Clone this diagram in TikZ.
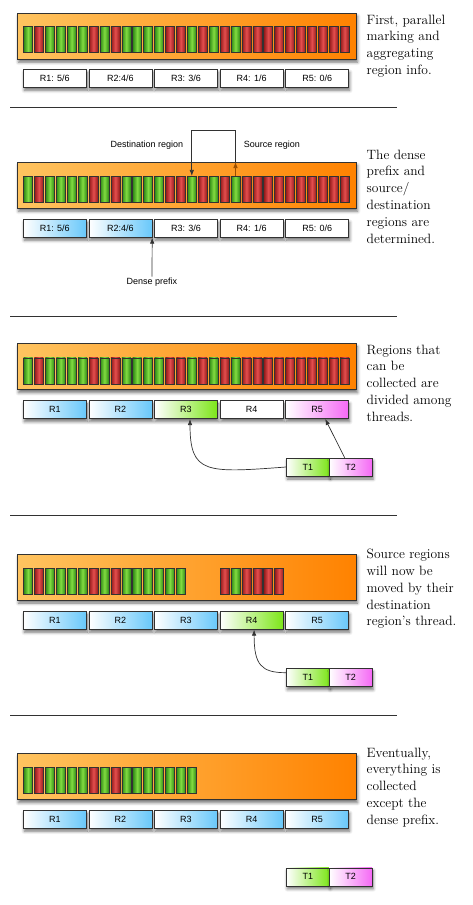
\documentclass[tikz,border=0pt]{standalone}
\usepackage{fontspec}
\setsansfont{Liberation Sans}
\usetikzlibrary{arrows.meta, shadows, shadows.blur}
\definecolor{barlight}{RGB}{255,196,96}
\definecolor{bardark}{RGB}{255,130,0}
\definecolor{livecolor}{RGB}{130,220,65}
\definecolor{livedark}{RGB}{45,135,20}
\definecolor{deadcolor}{RGB}{228,78,78}
\definecolor{deaddark}{RGB}{145,25,25}
\definecolor{prefixcolor}{RGB}{105,200,250}
\definecolor{t1color}{RGB}{125,230,25}
\definecolor{t2color}{RGB}{245,105,245}
\definecolor{linecolor}{RGB}{50,50,50}
\begin{document}
\begin{tikzpicture}[
    x=1pt, y=-1pt,
    heap/.style={draw=linecolor, line width=0.6pt, left color=barlight, right color=bardark, minimum width=339pt, minimum height=46pt, inner sep=0pt, blur shadow={shadow xshift=1pt, shadow yshift=-3pt, shadow opacity=55, shadow blur radius=3pt}},
    cellbox/.style={draw=linecolor, line width=0.5pt, minimum width=9pt, minimum height=26pt, inner sep=0pt},
    live/.style={cellbox, left color=livedark, right color=livedark, middle color=livecolor},
    dead/.style={cellbox, left color=deaddark, right color=deaddark, middle color=deadcolor},
    region/.style={draw=linecolor, line width=0.6pt, fill=white, minimum width=63pt, minimum height=18pt, inner sep=0pt, font=\sffamily\fontsize{9}{10}\selectfont, blur shadow={shadow xshift=1pt, shadow yshift=-3pt, shadow opacity=55, shadow blur radius=3pt}},
    thread/.style={region, minimum width=43pt},
    dense/.style={left color=white, right color=prefixcolor},
    byA/.style={left color=white, right color=t1color},
    byB/.style={left color=white, right color=t2color},
    note/.style={anchor=north west, align=left, inner sep=0pt, font=\fontsize{13.5}{16.8}\selectfont},
    callout/.style={inner sep=1pt, font=\sffamily\fontsize{9}{10}\selectfont},
    arrow/.style={-{Latex[length=6pt, width=4.5pt]}, line width=0.7pt, draw=linecolor},
    sep/.style={line width=0.9pt, draw=linecolor}
]
    \useasboundingbox (0,0) rectangle (472,905);

    % Step 1: marking
    \node[heap] (p1heap) at (187,36.2) {};
    \foreach \s [count=\i] in {live,dead,live,live,live,live,dead,live,dead,live,live,live,live,dead,dead,live,dead,live,dead,live,dead,dead,dead,dead,dead,dead,dead,dead,dead,dead}
        \node[\s] (p1c\i) at ({28+(\i-1)*10.92},39.5) {};
    \node[region] (p1r1) at (54.8,78.3) {R1: 5/6};
    \node[region] (p1r2) at (120.4,78.3) {R2:4/6};
    \node[region] (p1r3) at (186,78.3) {R3: 3/6};
    \node[region] (p1r4) at (251.6,78.3) {R4: 1/6};
    \node[region] (p1r5) at (317.2,78.3) {R5: 0/6};
    \node[note] (p1note) at (366.5,14.5) {First, parallel\\marking and\\aggregating\\region info.};
    \draw[sep] (10,107.8) -- (396.7,107.8);

    % Step 2: dense prefix
    \node[heap] (p2heap) at (187,185.3) {};
    \foreach \s [count=\i] in {live,dead,live,live,live,live,dead,live,dead,live,live,live,live,dead,dead,live,dead,live,dead,live,dead,dead,dead,dead,dead,dead,dead,dead,dead,dead}
        \node[\s] (p2c\i) at ({28+(\i-1)*10.92},189.2) {};
    \node[region, dense] (p2r1) at (54.8,228.3) {R1: 5/6};
    \node[region, dense] (p2r2) at (120.4,228.3) {R2:4/6};
    \node[region] (p2r3) at (186,228.3) {R3: 3/6};
    \node[region] (p2r4) at (251.6,228.3) {R4: 1/6};
    \node[region] (p2r5) at (317.2,228.3) {R5: 0/6};
    \node[callout] (dest) at (147,144.7) {Destination region};
    \node[callout] (src) at (272,144.7) {Source region};
    \node[callout] (prefix) at (152,282) {Dense prefix};
    \coordinate (p2top) at (p2c20.north |- p2heap.north);
    \draw[arrow, draw=bardark!60!black] (p2c20.north) -- (p2top);
    \draw[arrow] (p2top) -- ++(0,-31.6) -| (p2c16.north);
    \draw[arrow] (prefix.north) -- (p2r2.south east);
    \node[note] (p2note) at (366.5,149.5) {The dense\\prefix and\\source/\\destination\\regions are\\determined.};
    \draw[sep] (10,316) -- (396.7,316);

    % Step 3: threads
    \node[heap] (p3heap) at (187,366.7) {};
    \foreach \s [count=\i] in {live,dead,live,live,live,live,dead,live,dead,live,live,live,live,dead,dead,live,dead,live,dead,live,dead,dead,dead,dead,dead,dead,dead,dead,dead,dead}
        \node[\s] (p3c\i) at ({28+(\i-1)*10.92},370.8) {};
    \node[region, dense] (p3r1) at (54.8,409.7) {R1};
    \node[region, dense] (p3r2) at (120.4,409.7) {R2};
    \node[region, byA] (p3r3) at (186,409.7) {R3};
    \node[region] (p3r4) at (251.6,409.7) {R4};
    \node[region, byB] (p3r5) at (317.2,409.7) {R5};
    \node[thread, byA] (p3t1) at (307.8,467) {T1};
    \node[thread, byB] (p3t2) at (350.7,467) {T2};
    \draw[arrow] (p3t1.west) .. controls +(-80,6) and +(0,55) .. ([xshift=4pt]p3r3.south);
    \draw[arrow] ([xshift=-6pt]p3t2.north) -- ([xshift=8pt]p3r5.south);
    \node[note] (p3note) at (366.5,344.5) {Regions that\\can be\\collected are\\divided among\\threads.};
    \draw[sep] (10,515.7) -- (396.7,515.7);

    % Step 4: moving
    \node[heap] (p4heap) at (187,577) {};
    \foreach \s [count=\i] in {live,dead,live,live,live,live,dead,live,dead,live,live,live,live,live,live}
        \node[\s] (p4c\i) at ({28+(\i-1)*10.92},581.3) {};
    \foreach \s [count=\i from 19] in {dead,live,dead,dead,dead,dead}
        \node[\s] (p4c\i) at ({28+(\i-1)*10.92},581.3) {};
    \node[region, dense] (p4r1) at (54.8,620.3) {R1};
    \node[region, dense] (p4r2) at (120.4,620.3) {R2};
    \node[region, dense] (p4r3) at (186,620.3) {R3};
    \node[region, byA] (p4r4) at (251.6,620.3) {R4};
    \node[region, dense] (p4r5) at (317.2,620.3) {R5};
    \node[thread, byA] (p4t1) at (307.8,677.7) {T1};
    \node[thread, byB] (p4t2) at (350.7,677.7) {T2};
    \draw[arrow] ([yshift=5pt]p4t1.west) .. controls +(-25,0) and +(0,35) .. ([xshift=2.5pt]p4r4.south);
    \node[note] (p4note) at (366.5,549) {Source regions\\will now be\\moved by their\\destination\\region's thread.};
    \draw[sep] (10,715) -- (396.7,715);

    % Step 5: done
    \node[heap] (p5heap) at (187,776.7) {};
    \foreach \s [count=\i] in {live,dead,live,live,live,live,dead,live,dead,live,live,live,live,live,live,live}
        \node[\s] (p5c\i) at ({28+(\i-1)*10.92},780) {};
    \node[region, dense] (p5r1) at (54.8,819.2) {R1};
    \node[region, dense] (p5r2) at (120.4,819.2) {R2};
    \node[region, dense] (p5r3) at (186,819.2) {R3};
    \node[region, dense] (p5r4) at (251.6,819.2) {R4};
    \node[region, dense] (p5r5) at (317.2,819.2) {R5};
    \node[thread, byA] (p5t1) at (307.8,876.8) {T1};
    \node[thread, byB] (p5t2) at (350.7,876.8) {T2};
    \node[note] (p5note) at (366.5,747.5) {Eventually,\\everything is\\collected\\except the\\dense prefix.};
\end{tikzpicture}
\end{document}
